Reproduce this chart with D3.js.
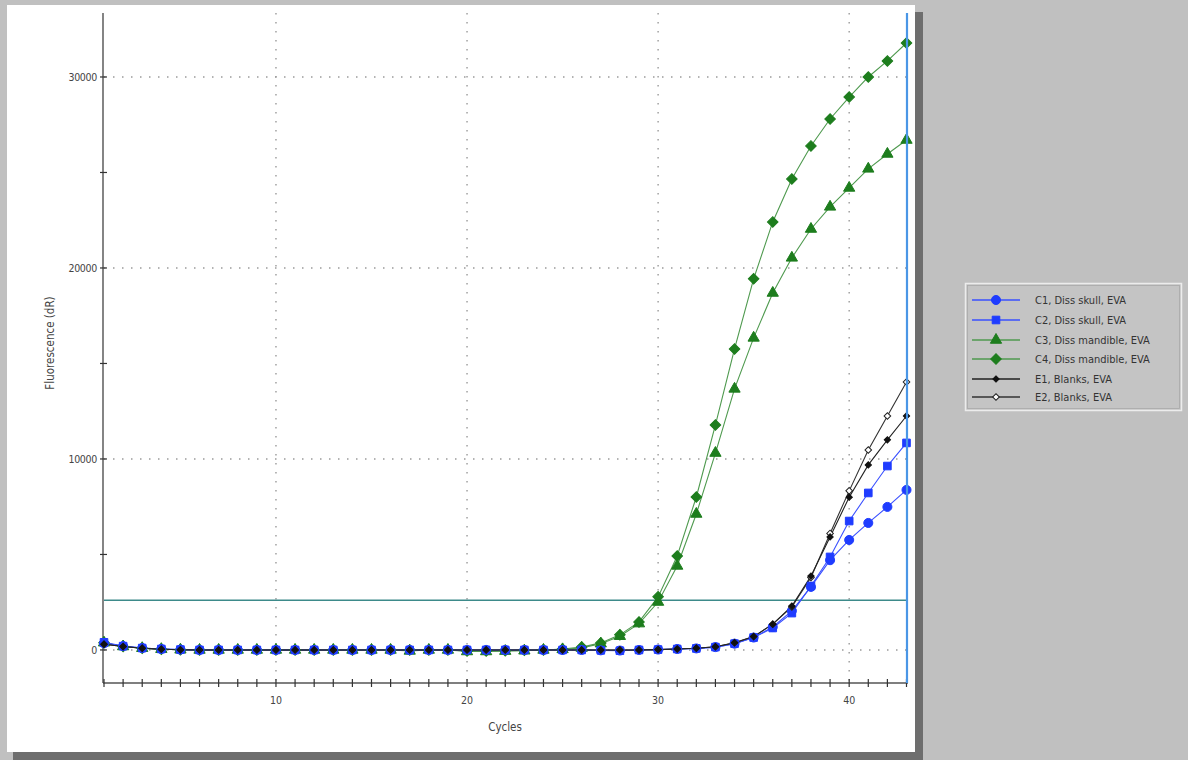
<!DOCTYPE html>
<html><head><meta charset="utf-8">
<script src="https://cdn.jsdelivr.net/npm/d3@7/dist/d3.min.js"></script>
<style>
html,body{margin:0;padding:0;background:#c0c0c0;}
svg{display:block;}
text{font-family:"DejaVu Sans Condensed","Liberation Sans Narrow","Liberation Sans",sans-serif;}
</style></head>
<body>
<svg id="chart" width="1188" height="760"></svg>
<script>
const cycles = [1,2,3,4,5,6,7,8,9,10,11,12,13,14,15,16,17,18,19,20,21,22,23,24,25,26,27,28,29,30,31,32,33,34,35,36,37,38,39,40,41,42,43];
const xTickLabels = [10,20,30,40];
const yTickLabels = [0,10000,20000,30000];
const yMinorTicks = [0,5000,10000,15000,20000,25000,30000];
const threshold = 2600;

//                 1    2    3   4   5   6  7  8  9 10 11 12 13 14 15 16 17 18 19 20 21 22 23 24 25  26  27   28   29   30   31   32    33    34    35    36    37    38    39    40    41    42    43
const c1Values = [350, 200, 100, 50, 20, 0, 0, 0, 0, 0, 0, 0, 0, 0, 0, 0, 0, 0, 0, 0, 0, 0, 0, 0, 0,  0, -20, -30,   0,  20,  50,  80,  150,  330,  650, 1200, 2050, 3300, 4700, 5760, 6650, 7490, 8380];
const c2Values = [400, 200, 100, 50, 20, 0, 0, 0, 0, 0, 0, 0, 0, 0, 0, 0, 0, 0, 0, 0, 0, 0, 0, 0, 0,  0, -20, -40,   0,  20,  50,  80,  150,  330,  650, 1150, 1930, 3350, 4870, 6750, 8220, 9630,10840];
const c3Values = [380, 180,  90, 40, 10, 0, 0, 0, 0, 0, 0, 0, 0, 0, 0, 0,-50, 0, 0,-80,-80,-60,-40, 0, 30,100, 330, 720, 1380, 2510, 4400, 7120,10310,13670,16340,18690,20530,22040,23200,24190,25190,25970,26700];
const c4Values = [380, 180,  90, 40, 10, 0, 0, 0, 0, 0, 0, 0, 0, 0, 0, 0, 0, 0, 0,-50,-50,-40,-20, 0, 50,150, 370, 790, 1470, 2780, 4920, 8010,11780,15760,19430,22410,24660,26390,27800,28950,30000,30840,31780];
const e1Values = [300, 180,  90, 40, 10, 0, 0, 0, 0, 0, 0, 0, 0, 0, 0, 0, 0, 0, 0, 0, 0, 0, 0, 0, 0,  0,   0,   0,   0,  20,  50,  90,  170,  380,  700, 1350, 2300, 3870, 5920, 8000, 9690,11000,12250];
const e2Values = [300, 180,  90, 40, 10, 0, 0, 0, 0, 0, 0, 0, 0, 0, 0, 0, 0, 0, 0, 0, 0, 0, 0, 0, 0,  0,   0,   0,   0,  20,  50,  90,  170,  380,  700, 1350, 2250, 3800, 6100, 8330,10470,12250,14030];

const seriesNames = ["C1, Diss skull, EVA","C2, Diss skull, EVA","C3, Diss mandible, EVA","C4, Diss mandible, EVA","E1, Blanks, EVA","E2, Blanks, EVA"];

const sq = d3.symbolSquare;
const series = [
  {name:seriesNames[0], values:c1Values, line:"#3a50ff", fill:"#1f3cff", stroke:"#1f3cff", sym:d3.symbolCircle, size:64, rot:0},
  {name:seriesNames[1], values:c2Values, line:"#3a50ff", fill:"#1f3cff", stroke:"#1f3cff", sym:sq, size:58, rot:0},
  {name:seriesNames[2], values:c3Values, line:"#4f9a4f", fill:"#1d7d1d", stroke:"#1d7d1d", sym:d3.symbolTriangle, size:55, rot:0},
  {name:seriesNames[3], values:c4Values, line:"#4f9a4f", fill:"#1d7d1d", stroke:"#1d7d1d", sym:sq, size:56, rot:45},
  {name:seriesNames[4], values:e1Values, line:"#222", fill:"#111", stroke:"#111", sym:sq, size:20, rot:45},
  {name:seriesNames[5], values:e2Values, line:"#333", fill:"#fff", stroke:"#222", sym:sq, size:22, rot:45}
];

const svg = d3.select("#chart");

// panel and shadows
svg.append("rect").attr("x",13).attr("y",752).attr("width",910).attr("height",8).attr("fill","#6e6e6e");
svg.append("rect").attr("x",915).attr("y",12).attr("width",8).attr("height",748).attr("fill","#6e6e6e");
svg.append("rect").attr("x",7).attr("y",5).attr("width",908).attr("height",747).attr("fill","#ffffff");

const x = d3.scaleLinear().domain([1,43]).range([104,906.5]);
const y = d3.scaleLinear().domain([-1730,33350]).range([683,13]);

const g = svg.append("g");

// grid
g.selectAll(".vg").data(xTickLabels).join("line")
  .attr("x1",d=>x(d)).attr("x2",d=>x(d)).attr("y1",13).attr("y2",683)
  .attr("stroke","#9a9a9a").attr("stroke-width",1.4).attr("stroke-dasharray","1.5,7.5");
g.selectAll(".hg").data(yTickLabels).join("line")
  .attr("x1",104).attr("x2",906).attr("y1",d=>y(d)).attr("y2",d=>y(d))
  .attr("stroke","#9a9a9a").attr("stroke-width",1.4).attr("stroke-dasharray","1.5,7.5");

// axes
const yAxis = d3.axisLeft(y).tickValues(yMinorTicks).tickSize(0).tickFormat("");
const yg = g.append("g").attr("transform","translate(103,0)").call(yAxis);
yg.select(".domain").remove();
g.append("line").attr("x1",103).attr("x2",103).attr("y1",13).attr("y2",683).attr("stroke","#666").attr("stroke-width",1.6);
g.selectAll(".ytk").data(yMinorTicks).join("line")
  .attr("x1",100).attr("x2",107).attr("y1",d=>y(d)).attr("y2",d=>y(d)).attr("stroke","#333").attr("stroke-width",1.2);
g.selectAll(".ytl").data(yTickLabels).join("text")
  .attr("x",97).attr("y",d=>y(d)+4).attr("text-anchor","end")
  .attr("font-size",10.5).attr("fill","#444").attr("letter-spacing","-0.3")
  .text(d=>d);

const xAxis = d3.axisBottom(x).tickValues(cycles).tickSize(0).tickFormat("");
const xg = g.append("g").attr("transform","translate(0,683)").call(xAxis);
xg.select(".domain").remove();
g.append("line").attr("x1",103).attr("x2",908).attr("y1",683).attr("y2",683).attr("stroke","#555").attr("stroke-width",1.6);
g.selectAll(".xtk").data(cycles).join("line")
  .attr("x1",d=>x(d)).attr("x2",d=>x(d)).attr("y1",679).attr("y2",687).attr("stroke","#333").attr("stroke-width",1.2);
g.selectAll(".xtl").data(xTickLabels).join("text")
  .attr("x",d=>x(d)).attr("y",704).attr("text-anchor","middle")
  .attr("font-size",10.5).attr("fill","#444").text(d=>d);

svg.append("text").attr("x",505).attr("y",731).attr("text-anchor","middle")
  .attr("font-size",11.5).attr("fill","#444").text("Cycles");
svg.append("text").attr("transform","translate(54,343) rotate(-90)").attr("text-anchor","middle")
  .attr("font-size",11.5).attr("fill","#444").text("Fluorescence (dR)");

// threshold
g.append("line").attr("x1",104).attr("x2",907).attr("y1",y(threshold)).attr("y2",y(threshold))
  .attr("stroke","#3d8a8a").attr("stroke-width",1.6);

const line = d3.line().x((d,i)=>x(cycles[i])).y(d=>y(d));
const order = [2,3,0,1,5,4];
order.forEach(k=>{
  const s = series[k];
  g.append("path").datum(s.values).attr("d",line).attr("fill","none")
    .attr("stroke",s.line).attr("stroke-width",1.1);
});
order.forEach(k=>{
  const s = series[k];
  const sym = d3.symbol().type(s.sym).size(s.size);
  g.selectAll(null).data(s.values).join("path")
    .attr("transform",(d,i)=>`translate(${x(cycles[i])},${y(d)}) rotate(${s.rot})`)
    .attr("d",sym).attr("fill",s.fill).attr("stroke",s.stroke).attr("stroke-width",1);
});

// end vertical line
g.append("line").attr("x1",x(43)+0.5).attr("x2",x(43)+0.5).attr("y1",13).attr("y2",683)
  .attr("stroke","#4a96e6").attr("stroke-width",2.2);

// legend
const lg = svg.append("g");
lg.append("rect").attr("x",965.5).attr("y",283.5).attr("width",216).attr("height",127)
  .attr("fill","#c4c4c4").attr("stroke","#ececec").attr("stroke-width",1.5);
lg.append("rect").attr("x",967.5).attr("y",285.5).attr("width",212).attr("height",123)
  .attr("fill","none").attr("stroke","#a8a8a8").attr("stroke-width",0.8);
const legY = [300,320,340,359,379,397];
series.forEach((s,i)=>{
  lg.append("line").attr("x1",972).attr("x2",1020).attr("y1",legY[i]).attr("y2",legY[i])
    .attr("stroke",s.line).attr("stroke-width",1.3);
  lg.append("path").attr("transform",`translate(996,${legY[i]}) rotate(${s.rot})`)
    .attr("d",d3.symbol().type(s.sym).size(s.size)).attr("fill",s.fill).attr("stroke",s.stroke);
  lg.append("text").attr("x",1035).attr("y",legY[i]+4).attr("font-size",11)
    .attr("fill","#333").text(s.name);
});
</script>
</body></html>
